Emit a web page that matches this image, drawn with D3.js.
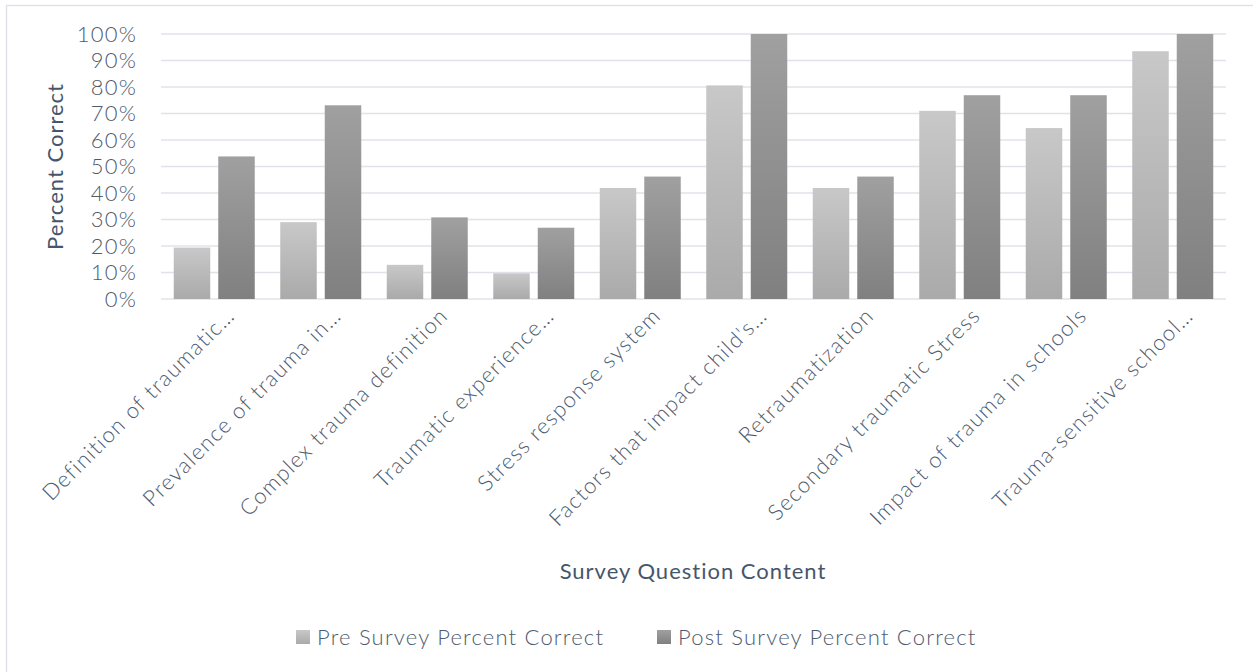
<!DOCTYPE html>
<html>
<head>
<meta charset="utf-8">
<script src="https://cdn.jsdelivr.net/npm/d3@7"></script>
<style>
  body { margin: 0; background: #fff; }
  text { font-family: Lato, "Open Sans", sans-serif; }
</style>
</head>
<body>
<div id="content"></div>
<script>
// chart values
var categories = [
  "Definition of traumatic\u2026",
  "Prevalence of trauma in\u2026",
  "Complex trauma definition",
  "Traumatic experience\u2026",
  "Stress response system",
  "Factors that impact child's\u2026",
  "Retraumatization",
  "Secondary traumatic Stress",
  "Impact of trauma in schools",
  "Trauma-sensitive school\u2026"
];
var preValues  = [19.4, 29.0, 12.9, 9.7, 41.9, 80.6, 41.9, 71.0, 64.5, 93.5];
var postValues = [53.8, 73.1, 30.8, 26.9, 46.2, 100, 46.2, 76.9, 76.9, 100];
var seriesNames = ["Pre Survey Percent Correct", "Post Survey Percent Correct"];
var yTicks = [0, 10, 20, 30, 40, 50, 60, 70, 80, 90, 100];

var width = 1253, height = 672;
var margin = {top: 34, right: 27, bottom: 373, left: 161};
var innerW = width - margin.left - margin.right;
var innerH = height - margin.top - margin.bottom;

var svg = d3.select('#content').append("svg")
  .attr("width", width)
  .attr("height", height);

// chart border (only top and left visible)
svg.append("rect")
  .attr("x", 6.5).attr("y", 5.5)
  .attr("width", width).attr("height", height)
  .attr("fill", "none")
  .attr("stroke", "#dfe3e8")
  .attr("stroke-width", 1.5);

var defs = svg.append("defs");
var grads = [["preGrad", "#c8c8c8", "#aaaaaa"], ["postGrad", "#a0a0a0", "#808080"]];
grads.forEach(function(g) {
  var lg = defs.append("linearGradient")
    .attr("id", g[0]).attr("x1", 0).attr("y1", 0).attr("x2", 0).attr("y2", 1);
  lg.append("stop").attr("offset", "0%").attr("stop-color", g[1]);
  lg.append("stop").attr("offset", "100%").attr("stop-color", g[2]);
});

var g = svg.append("g")
  .attr("transform", "translate(" + margin.left + "," + margin.top + ")");

var x0 = d3.scaleBand().domain(categories).range([0, innerW]).padding(0);
var x1 = d3.scaleBand().domain(["pre", "post"])
  .range([12.75, x0.bandwidth() - 12.75])
  .paddingInner(0.18).paddingOuter(0);
var y = d3.scaleLinear().domain([0, 100]).range([innerH, 0]);

// gridlines
g.append("g")
  .selectAll("line")
  .data(yTicks)
  .enter().append("line")
  .attr("x1", 0).attr("x2", innerW)
  .attr("y1", function(d) { return y(d); })
  .attr("y2", function(d) { return y(d); })
  .attr("stroke", "#dfe3e9")
  .attr("stroke-width", 1.5);

// y axis
var yAxis = g.append("g")
  .call(d3.axisLeft(y).tickValues(yTicks).tickSize(0).tickPadding(24)
    .tickFormat(function(d) { return d + "%"; }));
yAxis.select(".domain").remove();
yAxis.selectAll("text")
  .attr("font-size", 22)
  .attr("font-weight", 300)
  .attr("letter-spacing", 1.2)
  .attr("fill", "#4e5b6d");

// bars
var groups = g.selectAll(".cat")
  .data(categories)
  .enter().append("g")
  .attr("class", "cat")
  .attr("transform", function(d) { return "translate(" + x0(d) + ",0)"; });

groups.append("rect")
  .attr("x", x1("pre"))
  .attr("width", x1.bandwidth())
  .attr("y", function(d, i) { return y(preValues[i]); })
  .attr("height", function(d, i) { return innerH - y(preValues[i]); })
  .attr("fill", "url(#preGrad)");

groups.append("rect")
  .attr("x", x1("post"))
  .attr("width", x1.bandwidth())
  .attr("y", function(d, i) { return y(postValues[i]); })
  .attr("height", function(d, i) { return innerH - y(postValues[i]); })
  .attr("fill", "url(#postGrad)");

// x axis labels, rotated
var xAxis = g.append("g")
  .attr("transform", "translate(0," + innerH + ")")
  .call(d3.axisBottom(x0).tickSize(0));
xAxis.select(".domain").remove();
xAxis.selectAll("text")
  .attr("font-size", 22)
  .attr("font-weight", 300)
  .attr("letter-spacing", 1.3)
  .attr("fill", "#4e5b6d")
  .attr("text-anchor", "end")
  .attr("dy", null)
  .attr("y", 0)
  .attr("transform", "translate(22,18) rotate(-45)");

// axis titles
svg.append("text")
  .attr("transform", "translate(63," + (margin.top + innerH / 2) + ") rotate(-90)")
  .attr("text-anchor", "middle")
  .attr("font-size", 22)
  .attr("letter-spacing", 1)
  .attr("fill", "#46566b")
  .text("Percent Correct");

svg.append("text")
  .attr("x", 693).attr("y", 579)
  .attr("text-anchor", "middle")
  .attr("font-size", 22)
  .attr("letter-spacing", 1)
  .attr("fill", "#46566b")
  .text("Survey Question Content");

// legend
var legendX = [296, 657];
var legend = svg.selectAll(".legend")
  .data(seriesNames)
  .enter().append("g")
  .attr("class", "legend")
  .attr("transform", function(d, i) { return "translate(" + legendX[i] + ",630)"; });
legend.append("rect")
  .attr("width", 14).attr("height", 14)
  .attr("fill", function(d, i) { return i ? "url(#postGrad)" : "url(#preGrad)"; });
legend.append("text")
  .attr("x", 21).attr("y", 15)
  .attr("font-size", 22)
  .attr("font-weight", 300)
  .attr("letter-spacing", 1.2)
  .attr("fill", "#4e5b6d")
  .text(function(d) { return d; });
</script>
</body>
</html>
